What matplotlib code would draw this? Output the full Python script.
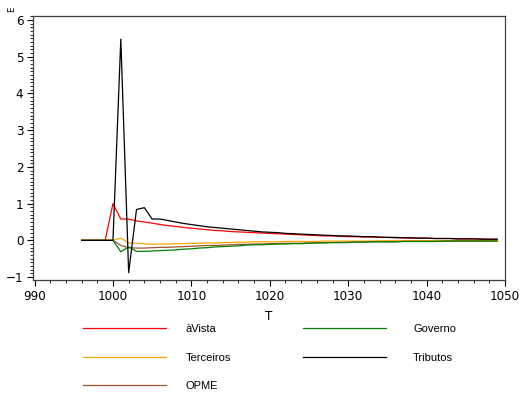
import matplotlib
matplotlib.use("Agg")
import matplotlib.pyplot as plt
from matplotlib.ticker import MultipleLocator

# periods
t = list(range(996, 1050))

# impulse responses (one value per period)
avista = [0, 0, 0, 0, 1.00, 0.58, 0.58, 0.53, 0.50, 0.47,
          0.43, 0.40, 0.38, 0.35, 0.33, 0.31, 0.29, 0.27, 0.26, 0.24,
          0.23, 0.22, 0.21, 0.20, 0.19, 0.18, 0.17, 0.16, 0.15, 0.14,
          0.13, 0.12, 0.12, 0.11, 0.10, 0.10, 0.09, 0.09, 0.08, 0.08,
          0.07, 0.07, 0.06, 0.06, 0.06, 0.05, 0.05, 0.05, 0.04, 0.04,
          0.04, 0.04, 0.03, 0.03]
terceiros = [0, 0, 0, 0, 0, 0.06, -0.07, -0.08, -0.09, -0.11,
             -0.10, -0.10, -0.09, -0.09, -0.08, -0.08, -0.07, -0.07, -0.06, -0.06,
             -0.05, -0.05, -0.04, -0.04, -0.04, -0.04, -0.03, -0.03, -0.03, -0.03,
             -0.03, -0.02, -0.02, -0.02, -0.02, -0.02, -0.02, -0.02, -0.01, -0.01,
             -0.01, -0.01, -0.01, -0.01, -0.01, -0.01, -0.01, -0.01, -0.01, -0.01,
             -0.01, -0.01, -0.01, -0.01]
opme = [0, 0, 0, 0, 0, -0.14, -0.20, -0.21, -0.21, -0.20,
        -0.19, -0.19, -0.18, -0.17, -0.16, -0.15, -0.14, -0.14, -0.13, -0.12,
        -0.11, -0.11, -0.10, -0.10, -0.09, -0.09, -0.08, -0.08, -0.08, -0.07,
        -0.07, -0.06, -0.06, -0.06, -0.05, -0.05, -0.05, -0.04, -0.04, -0.04,
        -0.04, -0.03, -0.03, -0.03, -0.03, -0.03, -0.03, -0.02, -0.02, -0.02,
        -0.02, -0.02, -0.02, -0.02]
governo = [0, 0, 0, 0, 0, -0.31, -0.18, -0.30, -0.30, -0.29,
           -0.28, -0.27, -0.26, -0.24, -0.23, -0.21, -0.20, -0.18, -0.17, -0.16,
           -0.15, -0.13, -0.12, -0.12, -0.11, -0.10, -0.10, -0.09, -0.09, -0.08,
           -0.07, -0.07, -0.06, -0.06, -0.06, -0.05, -0.05, -0.04, -0.04, -0.04,
           -0.04, -0.03, -0.03, -0.03, -0.03, -0.03, -0.02, -0.02, -0.02, -0.02,
           -0.02, -0.02, -0.02, -0.02]
tributos = [0, 0, 0, 0, 0, 5.48, -0.88, 0.84, 0.89, 0.58,
            0.58, 0.54, 0.50, 0.46, 0.43, 0.40, 0.37, 0.35, 0.33, 0.31,
            0.29, 0.27, 0.25, 0.23, 0.22, 0.21, 0.19, 0.18, 0.17, 0.16,
            0.15, 0.14, 0.13, 0.12, 0.12, 0.11, 0.10, 0.10, 0.09, 0.08,
            0.08, 0.07, 0.07, 0.06, 0.06, 0.05, 0.05, 0.05, 0.04, 0.04,
            0.04, 0.03, 0.03, 0.03]

names = ["àVista", "Terceiros", "OPME", "Governo", "Tributos"]
series = [avista, terceiros, opme, governo, tributos]
colors = ["#ff0000", "#ffa500", "#a0522d", "#008000", "#000000"]

fig = plt.figure(figsize=(5.21, 3.94), dpi=100)
ax = fig.add_axes([33 / 521, 1 - 280 / 394, 472 / 521, 264 / 394])

lines = []
for vals, name, c in zip(series, names, colors):
    l, = ax.plot(t, vals, color=c, lw=0.9, label=name)
    lines.append(l)

ax.set_xlim(989.8, 1050)
ax.set_ylim(-1.08, 6.11)
ax.xaxis.set_major_locator(MultipleLocator(10))
ax.xaxis.set_minor_locator(MultipleLocator(2))
ax.yaxis.set_major_locator(MultipleLocator(1))
ax.yaxis.set_minor_locator(MultipleLocator(0.1))
ax.tick_params(which="major", direction="out", length=4, width=0.8, pad=3)
ax.tick_params(which="minor", direction="out", length=2, width=0.6)
for lab in ax.get_xticklabels() + ax.get_yticklabels():
    lab.set_family("DejaVu Sans")
    lab.set_stretch("condensed")
    lab.set_fontsize(9.5)
for sp in ax.spines.values():
    sp.set_linewidth(0.9)
    sp.set_color("#404040")

ax.set_xlabel("T", family="DejaVu Sans", stretch="condensed", fontsize=9.5, labelpad=5)
fig.text(0.023, 0.975, "E", rotation=90, family="DejaVu Sans", fontsize=6,
         ha="center", va="center")

leg_font = {"family": "Liberation Sans", "size": 8}
leg1 = fig.legend(lines[:3], names[:3], loc="upper left",
                  bbox_to_anchor=(73 / 521, 1 - 314 / 394), frameon=False,
                  prop=leg_font, handlelength=7.5, handletextpad=1.75,
                  labelspacing=1.68)
fig.legend(lines[3:], names[3:], loc="upper left",
           bbox_to_anchor=(293 / 521, 1 - 314 / 394), frameon=False,
           prop=leg_font, handlelength=7.5, handletextpad=2.4,
           labelspacing=1.68)

plt.savefig("out.png", dpi=100)
